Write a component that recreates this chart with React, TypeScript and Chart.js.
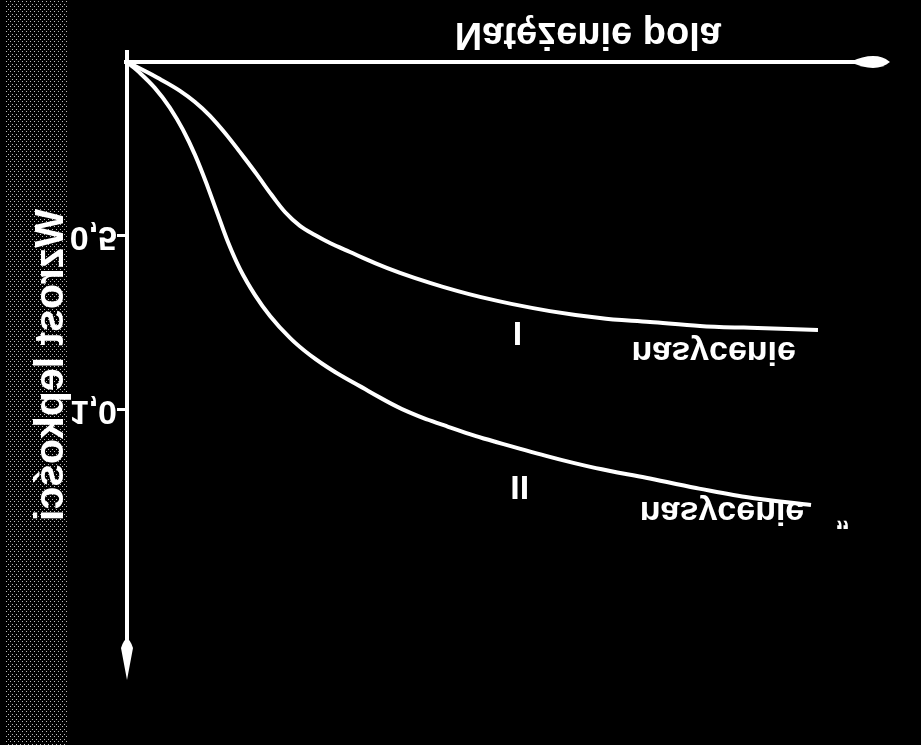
import React, { useEffect, useRef } from 'react';
import { Chart, registerables } from 'chart.js';

Chart.register(...registerables);

// ---- data ----
const FIELD_I = [0, 2.11, 4.35, 6.99, 8.97, 10.95, 12.93, 14.91, 16.89, 18.87, 20.84, 22.82, 24.8, 26.78, 29.42, 32.72, 36.02, 39.97, 46.57, 55.8, 62.4, 69.0, 75.59, 82.19, 91.16];
const VALUE_I = [0, 0.023, 0.049, 0.083, 0.115, 0.155, 0.204, 0.259, 0.316, 0.376, 0.431, 0.471, 0.497, 0.52, 0.546, 0.578, 0.606, 0.635, 0.675, 0.716, 0.736, 0.747, 0.759, 0.764, 0.77];

const FIELD_II = [0, 1.72, 3.69, 5.67, 7.39, 8.97, 10.55, 12.01, 13.32, 14.91, 16.89, 18.87, 21.5, 24.14, 27.44, 31.4, 35.49, 39.45, 42.08, 46.04, 48.68, 55.28, 61.87, 68.47, 75.07, 81.66, 90.24];
const VALUE_II = [0, 0.032, 0.075, 0.132, 0.195, 0.267, 0.353, 0.44, 0.517, 0.595, 0.67, 0.73, 0.793, 0.842, 0.891, 0.94, 0.989, 1.026, 1.046, 1.075, 1.092, 1.132, 1.167, 1.195, 1.224, 1.25, 1.273];

const SERIES_NAMES = ['I', 'II'];
const SATURATION_LABEL = 'nasycenie';
const DITTO_MARK = '”';
const Y_TICKS = [0.5, 1.0];
const Y_TICK_LABELS = ['0,5', '1,0'];
const X_TITLE = 'Natężenie pola';
const Y_TITLE = 'Wzrost lepkości';
const X_MAX = 100;
const Y_MAX = 1.776;

const FONT = "'Liberation Sans', Arial, sans-serif";

const overlay = {
  id: 'overlay',
  beforeDraw(chart: any) {
    const { ctx, width, height } = chart;
    ctx.save();
    ctx.fillStyle = '#000';
    ctx.fillRect(0, 0, width, height);
    // halftone strip at the left edge of the scan
    const tile = document.createElement('canvas');
    tile.width = 4;
    tile.height = 5;
    const tctx = tile.getContext('2d')!;
    tctx.fillStyle = 'rgba(210,210,210,0.9)';
    tctx.fillRect(0, 0, 1, 1);
    tctx.fillRect(2, 3, 1, 1);
    const pat = ctx.createPattern(tile, 'repeat');
    if (pat) {
      ctx.fillStyle = pat;
      ctx.fillRect(6, 0, 62, height);
    }
    ctx.restore();
  },
  afterDraw(chart: any) {
    const { ctx, scales } = chart;
    const x = scales.x;
    const y = scales.y;
    const x0 = x.getPixelForValue(0);
    const y0 = y.getPixelForValue(0);
    const xTip = x.getPixelForValue(X_MAX) + 5;
    const yTip = y.getPixelForValue(Y_MAX);
    ctx.save();
    ctx.strokeStyle = '#fff';
    ctx.fillStyle = '#fff';
    ctx.lineWidth = 4;
    // x axis
    ctx.beginPath();
    ctx.moveTo(x0 - 3, y0);
    ctx.lineTo(xTip - 20, y0);
    ctx.stroke();
    ctx.beginPath();
    ctx.moveTo(xTip, y0);
    ctx.quadraticCurveTo(xTip - 14, y0 - 12, xTip - 40, y0);
    ctx.quadraticCurveTo(xTip - 14, y0 + 12, xTip, y0);
    ctx.fill();
    // y axis
    ctx.beginPath();
    ctx.moveTo(x0, y0 + 12);
    ctx.lineTo(x0, yTip + 20);
    ctx.stroke();
    ctx.beginPath();
    ctx.moveTo(x0, yTip);
    ctx.lineTo(x0 - 6, yTip + 32);
    ctx.quadraticCurveTo(x0, yTip + 50, x0 + 6, yTip + 32);
    ctx.closePath();
    ctx.fill();

    // axis titles
    ctx.textBaseline = 'alphabetic';
    ctx.textAlign = 'center';
    ctx.font = `bold 38px ${FONT}`;
    ctx.fillText(X_TITLE, x.getPixelForValue(60.8), y0 + 39);

    ctx.save();
    ctx.translate(63, 380);
    ctx.rotate(-Math.PI / 2);
    ctx.font = `bold 41px ${FONT}`;
    ctx.fillText(Y_TITLE, 0, 0);
    ctx.restore();

    // curve labels
    ctx.font = `bold 34px ${FONT}`;
    ctx.fillText(SERIES_NAMES[0], x.getPixelForValue(51.5), y.getPixelForValue(0.747));
    ctx.fillText(SERIES_NAMES[1], x.getPixelForValue(51.8), y.getPixelForValue(1.19));
    ctx.fillText(SATURATION_LABEL, x.getPixelForValue(77.4), y.getPixelForValue(0.805));
    ctx.fillText(SATURATION_LABEL, x.getPixelForValue(78.5), y.getPixelForValue(1.264));
    ctx.font = `bold 30px ${FONT}`;
    ctx.fillText(DITTO_MARK, x.getPixelForValue(94.4), y.getPixelForValue(1.285));
    ctx.restore();
  },
};

export default function App() {
  const ref = useRef<HTMLCanvasElement>(null);
  useEffect(() => {
    const canvas = ref.current;
    if (!canvas) return;
    const chart = new Chart(canvas, {
      type: 'line',
      data: {
        datasets: [
          {
            label: SERIES_NAMES[0],
            data: FIELD_I.map((v, i) => ({ x: v, y: VALUE_I[i] })),
            borderColor: '#fff',
            borderWidth: 4,
            pointRadius: 0,
            fill: false,
            cubicInterpolationMode: 'monotone',
          },
          {
            label: SERIES_NAMES[1],
            data: FIELD_II.map((v, i) => ({ x: v, y: VALUE_II[i] })),
            borderColor: '#fff',
            borderWidth: 4,
            pointRadius: 0,
            fill: false,
            cubicInterpolationMode: 'monotone',
          },
        ],
      },
      options: {
        responsive: false,
        animation: false,
        devicePixelRatio: 1,
        layout: { padding: { top: 65, right: 36, bottom: 0, left: 0 } },
        plugins: { legend: { display: false }, tooltip: { enabled: false } },
        scales: {
          x: {
            type: 'linear',
            min: 0,
            max: X_MAX,
            ticks: { display: false },
            grid: { display: false },
            border: { display: false },
            afterFit: (s: any) => {
              s.height = 62;
            },
          },
          y: {
            type: 'linear',
            min: 0,
            max: Y_MAX,
            afterBuildTicks: (s: any) => {
              s.ticks = Y_TICKS.map((v) => ({ value: v }));
            },
            ticks: {
              color: '#fff',
              padding: 0,
              font: { family: FONT, size: 34, weight: 'bold' },
              callback: (v: any) => {
                const i = Y_TICKS.indexOf(Number(v));
                return i >= 0 ? Y_TICK_LABELS[i] : '';
              },
            },
            grid: { drawOnChartArea: false, drawTicks: true, tickLength: 10, color: '#fff', lineWidth: 3 },
            border: { display: false },
            afterFit: (s: any) => {
              s.width = 127;
            },
          },
        },
      } as any,
      plugins: [overlay],
    });
    return () => chart.destroy();
  }, []);

  return (
    <div style={{ position: 'fixed', left: 0, top: 0, width: 921, height: 745, background: '#000', overflow: 'hidden' }}>
      <canvas ref={ref} width={921} height={745} style={{ display: 'block', transform: 'scaleY(-1)' }} />
    </div>
  );
}
